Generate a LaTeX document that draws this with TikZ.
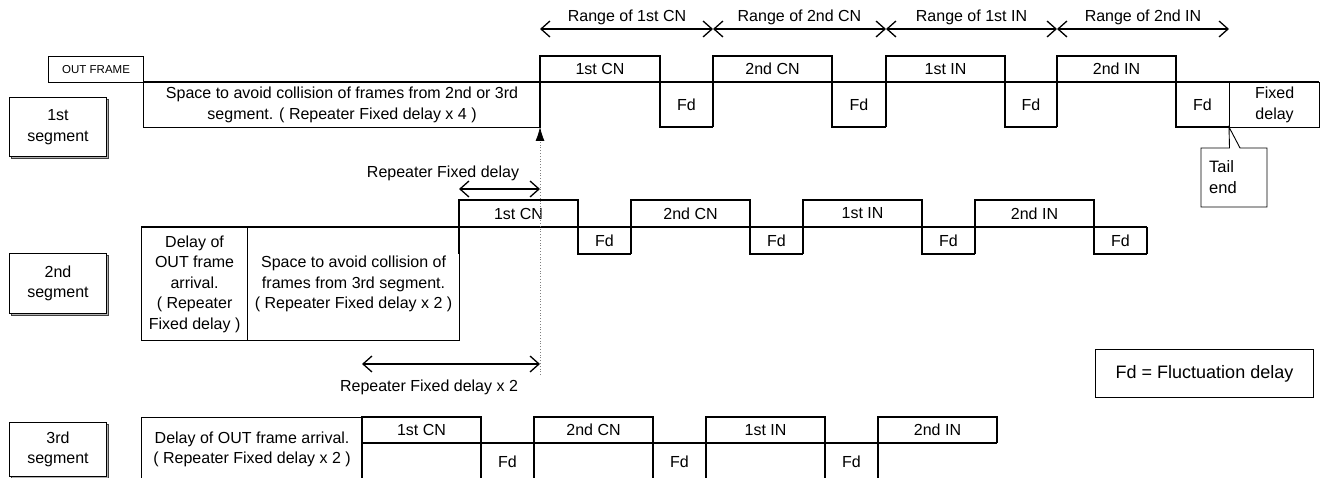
\documentclass[tikz,border=0pt]{standalone}
\usepackage{fontspec}
\setmainfont{Liberation Sans}
\usetikzlibrary{arrows.meta}
\begin{document}
\begin{tikzpicture}[x=1pt,y=-1pt,
  wire/.style={line width=1.15pt},
  lbl/.style={inner sep=0pt, font=\fontsize{16}{20.5}\selectfont, align=center},
  small/.style={inner sep=0pt, font=\fontsize{11.5}{13}\selectfont},
  big/.style={inner sep=0pt, font=\fontsize{18}{21}\selectfont},
  segbox/.style={draw, line width=1pt, fill=white},
  segshadow/.style={fill=gray!60, draw=black!75, line width=0.8pt},
  rng/.style={line width=1.3pt, {Straight Barb[length=9pt,width=16pt]}-{Straight Barb[length=9pt,width=16pt]}},
  guide/.style={draw=gray, line width=0.8pt, dotted},
]
\useasboundingbox (0,0) rectangle (1325,478);
\clip (0,0) rectangle (1325,478);

% ---------- segment label boxes ----------
\foreach \yt/\yb/\t [count=\i] in {97/156/1st, 253/313/2nd, 422/476/3rd}{
  \fill[segshadow] (11.5,\yt+2.5) rectangle (108.5,\yb+2.5);
  \node[segbox, minimum width=97pt, minimum height=\yb-\yt, inner sep=0pt,
        anchor=north west, lbl] (seg\i) at (9,\yt) {\t\\segment};
}

% ---------- row 1 ----------
\node[draw, wire, anchor=north west, minimum width=95pt, minimum height=26pt,
      inner sep=0pt, small] (outframe) at (48,56) {OUT FRAME};
\node[draw, wire, anchor=north west, minimum width=397pt, minimum height=45pt,
      inner sep=0pt, lbl] (space1) at (143,82)
      {Space to avoid collision of frames from 2nd or 3rd\\segment. ( Repeater Fixed delay x 4 )};
\draw[wire] (143,82) -- (1319,82);
\foreach \s/\e/\n/\t [count=\i] in {540/660/713/1st CN, 713/832/886/2nd CN, 886/1005/1057/1st IN, 1057/1176/1229/2nd IN}{
  \draw[wire] (\s,127) -- (\s,56) -- (\e,56) -- (\e,127) -- (\n,127);
  \node[lbl] (ra\i) at ({(\s+\e)/2},69) {\t};
  \node[lbl] (fa\i) at ({(\e+\n)/2},104.5) {Fd};
}
\node[draw, wire, anchor=north west, minimum width=90pt, minimum height=45pt,
      inner sep=0pt, lbl] (fixed) at (1229,82) {Fixed\\delay};

% range arrows
\coordinate (r0) at (540,29);
\coordinate (r1) at (713,29);
\coordinate (r2) at (886,29);
\coordinate (r3) at (1057,29);
\coordinate (r4) at (1229,29);
\draw[rng] (r0) -- (r1);
\draw[rng] (r1) -- (r2);
\draw[rng] (r2) -- (r3);
\draw[rng] (r3) -- (r4);
\node[lbl] (rl1) at (627,17) {Range of 1st CN};
\node[lbl] (rl2) at (799.5,17) {Range of 2nd CN};
\node[lbl] (rl3) at (971.5,17) {Range of 1st IN};
\node[lbl] (rl4) at (1143,17) {Range of 2nd IN};

% tail end callout
\draw[line width=0.9pt, fill=white] (1201,148) -- (1229.5,148) -- (1229,127) -- (1240,148)
  -- (1267,148) -- (1267,207) -- (1201,207) -- cycle;
\node[inner sep=0pt, font=\fontsize{16.5}{21}\selectfont, align=left, anchor=west] (tail) at (1209,177.5) {Tail\\end};

% ---------- row 2 ----------
\node[draw, wire, anchor=north west, minimum width=106pt, minimum height=113pt,
      inner sep=0pt, lbl] (delay2) at (141,227)
      {Delay of\\OUT frame\\arrival.\\( Repeater\\Fixed delay )};
\node[draw, wire, anchor=north west, minimum width=212pt, minimum height=113pt,
      inner sep=0pt, lbl] (space2) at (247,227)
      {Space to avoid collision of\\frames from 3rd segment.\\( Repeater Fixed delay x 2 )};
\draw[wire] (141,227) -- (1147,227);
\foreach \s/\e/\n/\t [count=\i] in {459/578/631/1st CN, 631/750/803/2nd CN, 803/922/975/1st IN, 975/1094/1147/2nd IN}{
  \draw[wire] (\s,254) -- (\s,200) -- (\e,200) -- (\e,254) -- (\n,254);
  \node[lbl] (rb\i) at ({(\s+\e)/2},213.5) {\t};
  \node[lbl] (fb\i) at ({(\e+\n)/2},240.5) {Fd};
}
\draw[wire] (1147,227) -- (1147,254);

% repeater fixed delay arrows
\coordinate (rfa) at (459,189);
\coordinate (rfb) at (540,189);
\draw[rng] (rfa) -- (rfb);
\node[lbl] (rfl) at (443,173) {Repeater Fixed delay};
\coordinate (rf2a) at (362,364);
\coordinate (rf2b) at (540,364);
\draw[rng] (rf2a) -- (rf2b);
\node[lbl] (rf2l) at (429,387) {Repeater Fixed delay x 2};

% dotted guide with arrow
\coordinate (gtop) at (540,127);
\coordinate (gbot) at (540,375);
\draw[guide, -{Latex[length=14pt,width=9pt,color=black]}] (gbot) -- (gtop);

% ---------- row 3 ----------
\node[draw, wire, anchor=north west, minimum width=221pt, minimum height=64pt,
      inner sep=0pt, lbl] (delay3) at (141,417)
      {Delay of OUT frame arrival.\\( Repeater Fixed delay x 2 )};
\draw[wire] (362,443) -- (997,443);
\foreach \s/\e/\n/\t [count=\i] in {362/481/534/1st CN, 534/653/706/2nd CN, 706/825/878/1st IN}{
  \draw[wire] (\s,490) -- (\s,417) -- (\e,417) -- (\e,490);
  \draw[wire] (\e,488) -- (\n,488);
  \node[lbl] (rc\i) at ({(\s+\e)/2},430) {\t};
  \node[lbl] (fc\i) at ({(\e+\n)/2},462) {Fd};
}
\draw[wire] (878,490) -- (878,417) -- (997,417) -- (997,443);
\node[lbl] (rc4) at (937.5,430) {2nd IN};

% legend
\node[draw, line width=1pt, anchor=north west, minimum width=218pt, minimum height=48pt,
      inner sep=0pt, big] (legend) at (1095,349) {Fd = Fluctuation delay};
\end{tikzpicture}
\end{document}
